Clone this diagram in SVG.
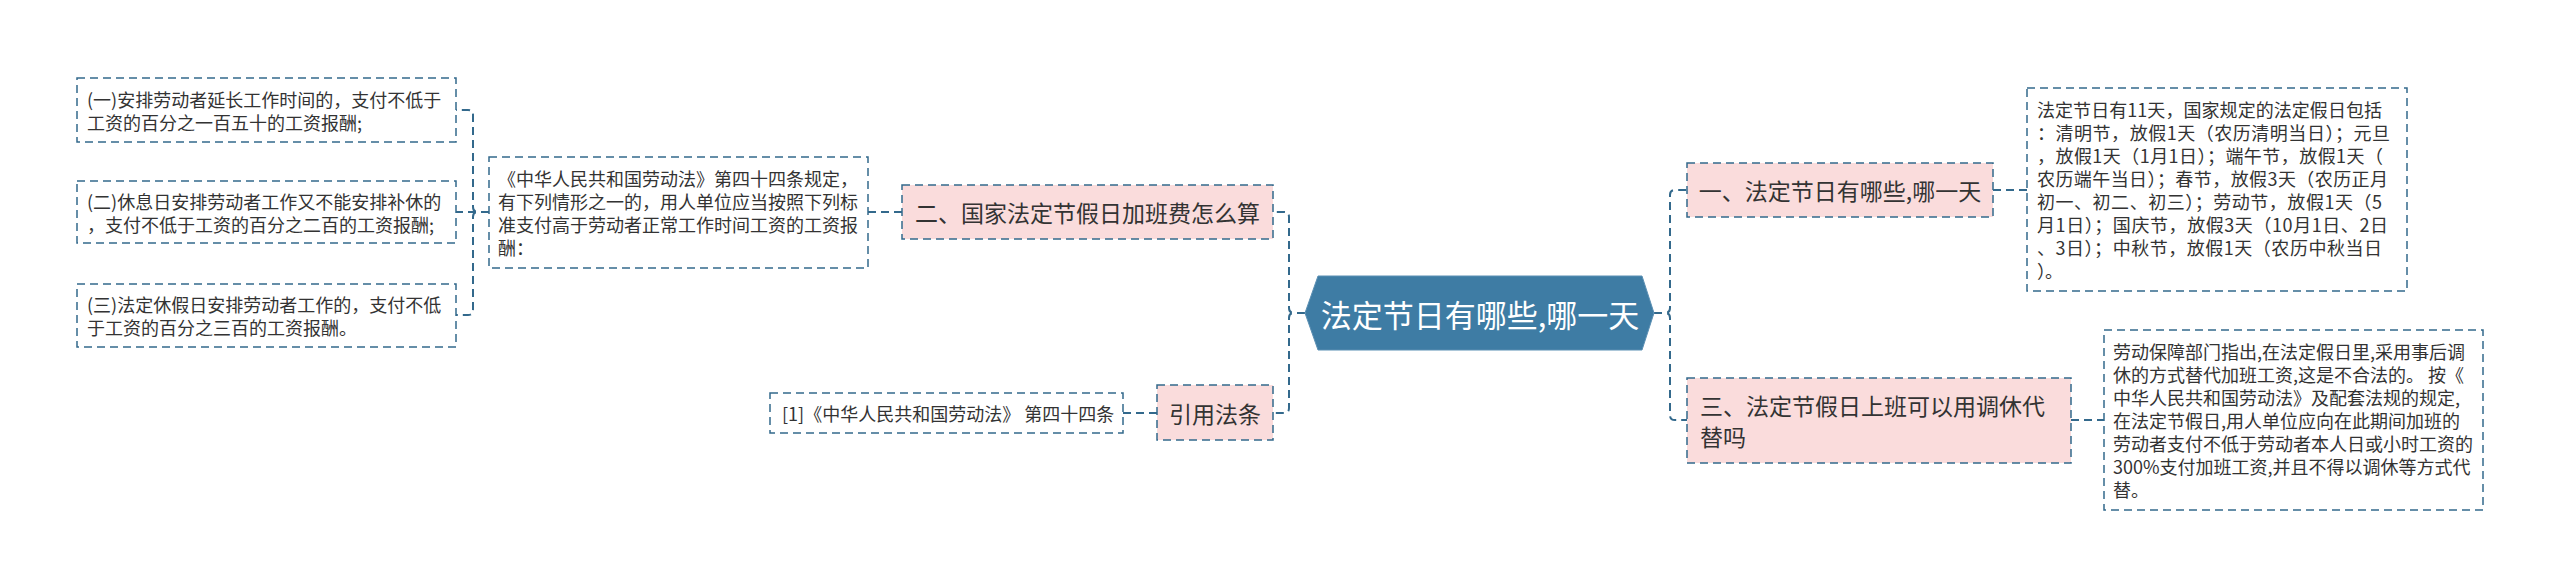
<svg xmlns="http://www.w3.org/2000/svg" width="2560" height="588" viewBox="0 0 2560 588">
<style>
.conn{fill:none;stroke:#33698c;stroke-width:2;stroke-dasharray:8 5}
.box{fill:#ffffff;stroke:#33698c;stroke-width:1.5;stroke-dasharray:8 5}
.topic{fill:#fadcdc;stroke:#33698c;stroke-width:1.5;stroke-dasharray:8 5}
text{font-family:"Noto Sans CJK SC","Noto Sans CJK JP",sans-serif;fill:#333333;dominant-baseline:central}
.s{font-size:18px}
.m{font-size:23px}
.c{text-anchor:middle}
.main{font-size:31px;fill:#ffffff;text-anchor:middle}
</style>
<rect width="2560" height="588" fill="#ffffff"/>
<g id="connectors">
<path class="conn" d="M1305,313 H1294 Q1289,313 1289,308 V217 Q1289,212 1284,212 H1273"/>
<path class="conn" d="M1305,313 H1294 Q1289,313 1289,318 V408 Q1289,413 1284,413 H1273"/>
<path class="conn" d="M1654,313 H1665 Q1670,313 1670,308 V195 Q1670,190 1675,190 H1687"/>
<path class="conn" d="M1654,313 H1665 Q1670,313 1670,318 V415 Q1670,420 1675,420 H1687"/>
<path class="conn" d="M902,212 H868"/>
<path class="conn" d="M489,212 H478 Q473,212 473,207 V115 Q473,110 468,110 H456"/>
<path class="conn" d="M489,212 H456"/>
<path class="conn" d="M489,212 H478 Q473,212 473,217 V310 Q473,315 468,315 H456"/>
<path class="conn" d="M1157,413 H1123"/>
<path class="conn" d="M1993,190 H2027"/>
<path class="conn" d="M2071,420 H2104"/>
</g>
<g id="root">
<polygon points="1305,313 1318,276 1642,276 1654,313 1642,350 1318,350" fill="#3e7ca4" stroke="#5b8fb3" stroke-width="1"/>
<text class="main" x="1480" y="313">法定节日有哪些,哪一天</text>
</g>
<g id="node-er">
<rect class="topic" x="902" y="185" width="371" height="54"/>
<text class="m c" x="1087.5" y="212">二、国家法定节假日加班费怎么算</text>
</g>
<g id="node-er-detail">
<rect class="box" x="489" y="157" width="379" height="111"/>
<text class="s" x="498" y="178">《中华人民共和国劳动法》第四十四条规定，</text>
<text class="s" x="498" y="201">有下列情形之一的，用人单位应当按照下列标</text>
<text class="s" x="498" y="224">准支付高于劳动者正常工作时间工资的工资报</text>
<text class="s" x="498" y="247">酬：</text>
</g>
<g id="item-1">
<rect class="box" x="77" y="78" width="379" height="64"/>
<text class="s" x="87" y="98.5">(一)安排劳动者延长工作时间的，支付不低于</text>
<text class="s" x="87" y="121.5">工资的百分之一百五十的工资报酬;</text>
</g>
<g id="item-2">
<rect class="box" x="77" y="181" width="379" height="62"/>
<text class="s" x="87" y="200.5">(二)休息日安排劳动者工作又不能安排补休的</text>
<text class="s" x="87" y="223.5">，支付不低于工资的百分之二百的工资报酬;</text>
</g>
<g id="item-3">
<rect class="box" x="77" y="284" width="379" height="63"/>
<text class="s" x="87" y="304">(三)法定休假日安排劳动者工作的，支付不低</text>
<text class="s" x="87" y="327">于工资的百分之三百的工资报酬。</text>
</g>
<g id="node-ref">
<rect class="topic" x="1157" y="385" width="116" height="55"/>
<text class="m c" x="1215" y="412.5">引用法条</text>
</g>
<g id="node-ref-detail">
<rect class="box" x="770" y="393" width="353" height="40"/>
<text class="s" x="782" y="413">[1]《中华人民共和国劳动法》 第四十四条</text>
</g>
<g id="node-yi">
<rect class="topic" x="1687" y="163" width="306" height="54"/>
<text class="m c" x="1840" y="190">一、法定节日有哪些,哪一天</text>
</g>
<g id="node-yi-detail">
<rect class="box" x="2027" y="88" width="380" height="203"/>
<text class="s" x="2037" y="109" textLength="345" lengthAdjust="spacing">法定节日有11天，国家规定的法定假日包括</text>
<text class="s" x="2037" y="132" textLength="353" lengthAdjust="spacing">：清明节，放假1天（农历清明当日）；元旦</text>
<text class="s" x="2037" y="155" textLength="346" lengthAdjust="spacing">，放假1天（1月1日）；端午节，放假1天（</text>
<text class="s" x="2037" y="178" textLength="351" lengthAdjust="spacing">农历端午当日）；春节，放假3天（农历正月</text>
<text class="s" x="2037" y="201" textLength="345" lengthAdjust="spacing">初一、初二、初三）；劳动节，放假1天（5</text>
<text class="s" x="2037" y="224" textLength="351" lengthAdjust="spacing">月1日）；国庆节，放假3天（10月1日、2日</text>
<text class="s" x="2037" y="247" textLength="345" lengthAdjust="spacing">、3日）；中秋节，放假1天（农历中秋当日</text>
<text class="s" x="2037" y="270" textLength="26" lengthAdjust="spacing">）。</text>
</g>
<g id="node-san">
<rect class="topic" x="1687" y="378" width="384" height="85"/>
<text class="m" x="1700" y="405">三、法定节假日上班可以用调休代</text>
<text class="m" x="1700" y="436">替吗</text>
</g>
<g id="node-san-detail">
<rect class="box" x="2104" y="330" width="379" height="180"/>
<text class="s" x="2113" y="351">劳动保障部门指出,在法定假日里,采用事后调</text>
<text class="s" x="2113" y="374">休的方式替代加班工资,这是不合法的。 按《</text>
<text class="s" x="2113" y="397">中华人民共和国劳动法》及配套法规的规定,</text>
<text class="s" x="2113" y="420">在法定节假日,用人单位应向在此期间加班的</text>
<text class="s" x="2113" y="443">劳动者支付不低于劳动者本人日或小时工资的</text>
<text class="s" x="2113" y="466">300%支付加班工资,并且不得以调休等方式代</text>
<text class="s" x="2113" y="489">替。</text>
</g>
</svg>
